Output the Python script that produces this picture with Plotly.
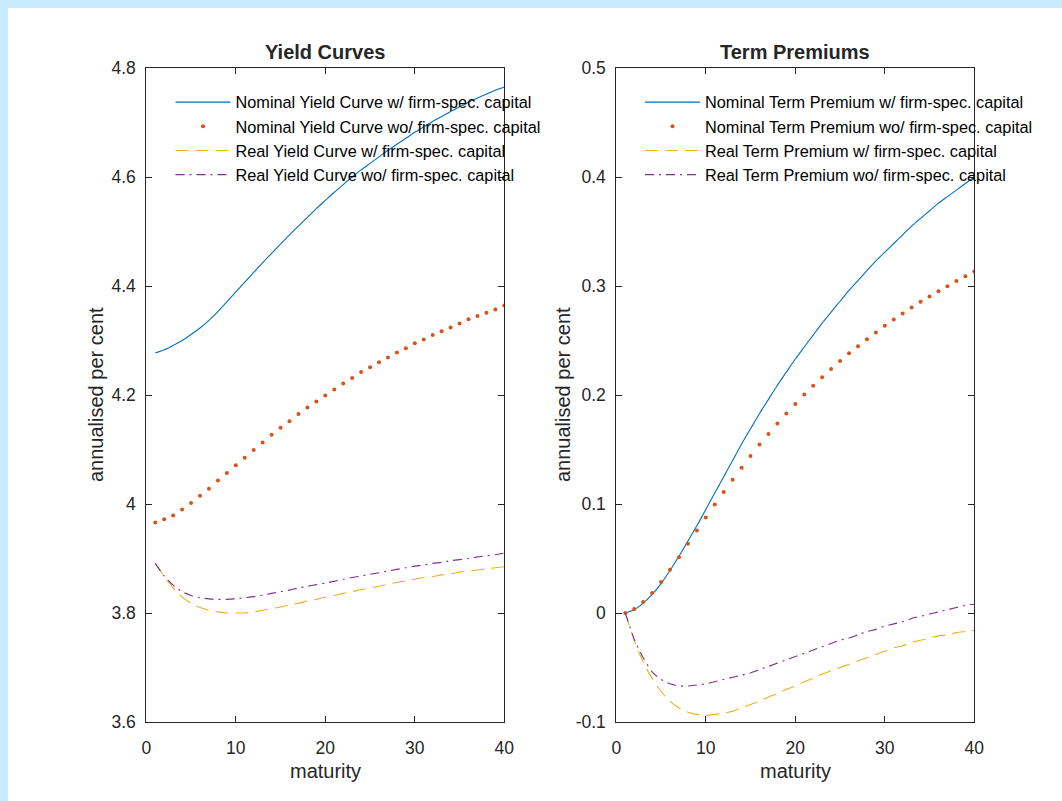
import plotly.graph_objects as go

maturity = list(range(1, 41))

# Yield curves (annualised per cent)
nom_yield_w = [4.277, 4.283, 4.291, 4.300, 4.311, 4.323, 4.337, 4.353, 4.371, 4.389,
               4.407, 4.425, 4.443, 4.460, 4.477, 4.494, 4.510, 4.526, 4.542, 4.557,
               4.572, 4.586, 4.600, 4.613, 4.625, 4.637, 4.649, 4.660, 4.671, 4.682,
               4.692, 4.702, 4.711, 4.720, 4.729, 4.737, 4.745, 4.752, 4.759, 4.765]
nom_yield_wo = [3.966, 3.972, 3.979, 3.990, 4.002, 4.015, 4.028, 4.043, 4.057, 4.071,
                4.085, 4.099, 4.113, 4.127, 4.140, 4.152, 4.165, 4.177, 4.188, 4.199,
                4.210, 4.221, 4.231, 4.242, 4.251, 4.260, 4.269, 4.278, 4.286, 4.295,
                4.302, 4.310, 4.317, 4.324, 4.331, 4.339, 4.345, 4.351, 4.357, 4.364]
real_yield_w = [3.891, 3.867, 3.846, 3.829, 3.818, 3.810, 3.805, 3.802, 3.800, 3.800,
                3.800, 3.802, 3.805, 3.808, 3.811, 3.815, 3.818, 3.822, 3.825, 3.829,
                3.832, 3.836, 3.839, 3.843, 3.846, 3.849, 3.853, 3.856, 3.859, 3.862,
                3.865, 3.867, 3.870, 3.872, 3.875, 3.877, 3.879, 3.881, 3.883, 3.885]
real_yield_wo = [3.891, 3.868, 3.851, 3.839, 3.832, 3.828, 3.826, 3.825, 3.825, 3.826,
                 3.828, 3.830, 3.833, 3.836, 3.839, 3.842, 3.846, 3.849, 3.852, 3.855,
                 3.858, 3.862, 3.865, 3.868, 3.871, 3.874, 3.877, 3.880, 3.883, 3.886,
                 3.888, 3.891, 3.893, 3.896, 3.898, 3.900, 3.903, 3.905, 3.907, 3.910]

# Term premiums (annualised per cent)
nom_tp_w = [0.000, 0.003, 0.009, 0.017, 0.027, 0.039, 0.052, 0.066, 0.080, 0.095,
            0.110, 0.125, 0.140, 0.155, 0.169, 0.183, 0.196, 0.209, 0.221, 0.233,
            0.244, 0.255, 0.266, 0.276, 0.286, 0.296, 0.305, 0.314, 0.323, 0.331,
            0.339, 0.347, 0.355, 0.362, 0.369, 0.376, 0.382, 0.388, 0.394, 0.400]
nom_tp_wo = [0.000, 0.0037, 0.0101, 0.0183, 0.0284, 0.0397, 0.0512, 0.0635, 0.0757, 0.0876,
             0.0995, 0.1111, 0.1223, 0.1333, 0.1440, 0.1546, 0.1643, 0.1738, 0.1830, 0.1918,
             0.2004, 0.2086, 0.2162, 0.2238, 0.2311, 0.2382, 0.2448, 0.2512, 0.2574, 0.2635,
             0.2693, 0.2747, 0.2802, 0.2855, 0.2903, 0.2952, 0.2997, 0.3047, 0.3089, 0.3132]
real_tp_w = [0.000, -0.025, -0.045, -0.060, -0.072, -0.081, -0.087, -0.091, -0.093, -0.094,
             -0.093, -0.092, -0.090, -0.087, -0.084, -0.081, -0.077, -0.074, -0.070, -0.067,
             -0.063, -0.060, -0.056, -0.053, -0.050, -0.047, -0.044, -0.041, -0.038, -0.035,
             -0.032, -0.030, -0.027, -0.025, -0.023, -0.021, -0.020, -0.018, -0.017, -0.016]
real_tp_wo = [0.000, -0.024, -0.041, -0.054, -0.061, -0.065, -0.067, -0.067, -0.066, -0.065,
              -0.063, -0.061, -0.059, -0.057, -0.055, -0.052, -0.049, -0.046, -0.043, -0.040,
              -0.037, -0.034, -0.031, -0.028, -0.025, -0.023, -0.020, -0.017, -0.015, -0.012,
              -0.010, -0.008, -0.005, -0.003, -0.001, 0.001, 0.003, 0.005, 0.007, 0.008]

left_names = ["Nominal Yield Curve w/ firm-spec. capital",
              "Nominal Yield Curve wo/ firm-spec. capital",
              "Real Yield Curve w/ firm-spec. capital",
              "Real Yield Curve wo/ firm-spec. capital"]
right_names = ["Nominal Term Premium w/ firm-spec. capital",
               "Nominal Term Premium wo/ firm-spec. capital",
               "Real Term Premium w/ firm-spec. capital",
               "Real Term Premium wo/ firm-spec. capital"]

x_ticks = [0, 10, 20, 30, 40]
left_yticks = [3.6, 3.8, 4.0, 4.2, 4.4, 4.6, 4.8]
left_yticklabels = ["3.6", "3.8", "4", "4.2", "4.4", "4.6", "4.8"]
right_yticks = [-0.1, 0.0, 0.1, 0.2, 0.3, 0.4, 0.5]
right_yticklabels = ["-0.1", "0", "0.1", "0.2", "0.3", "0.4", "0.5"]

BLUE = "#0072BD"
ORANGE = "#D95319"
YELLOW = "#EDB120"
PURPLE = "#7E2F8E"
FONT = "Liberation Sans, Arial, Helvetica, sans-serif"
AX = "#262626"

W, H = 1062, 801

fig = go.Figure()

def add_set(series, names, xa, ya, legend):
    styles = [
        dict(mode="lines", line=dict(color=BLUE, width=1.1, shape="spline", smoothing=0.6)),
        dict(mode="markers", marker=dict(color=ORANGE, size=4, line=dict(width=0))),
        dict(mode="lines", line=dict(color=YELLOW, width=1.1, dash="13px,7px",
                                     shape="spline", smoothing=0.6)),
        dict(mode="lines", line=dict(color=PURPLE, width=1.1, dash="9px,5px,2px,5px",
                                     shape="spline", smoothing=0.6)),
    ]
    for s, n, st in zip(series, names, styles):
        fig.add_trace(go.Scatter(x=maturity, y=s, name=n, xaxis=xa, yaxis=ya,
                                 legend=legend, **st))

add_set([nom_yield_w, nom_yield_wo, real_yield_w, real_yield_wo], left_names, "x", "y", "legend")
add_set([nom_tp_w, nom_tp_wo, real_tp_w, real_tp_wo], right_names, "x2", "y2", "legend2")

ydom = [1 - 722 / H, 1 - 68 / H]
xdom1 = [146.3 / W, 504.3 / W]
xdom2 = [616.3 / W, 974.3 / W]

axis_common = dict(showline=True, linecolor=AX, linewidth=1, mirror="ticks",
                   ticks="inside", ticklen=6, tickwidth=1, tickcolor=AX,
                   showgrid=False, zeroline=False, automargin=False,
                   tickfont=dict(family=FONT, size=17.5, color=AX))

legend_common = dict(xanchor="left", yanchor="top", bgcolor="rgba(0,0,0,0)",
                     borderwidth=0, itemwidth=55, tracegroupgap=0,
                     font=dict(family=FONT, size=16.3, color="#000000"))

fig.update_layout(
    width=W, height=H,
    margin=dict(l=0, r=0, t=0, b=0, pad=0, autoexpand=False),
    paper_bgcolor="rgb(200,236,255)",
    plot_bgcolor="white",
    showlegend=True,
    xaxis=dict(domain=xdom1, range=[0, 40], tickvals=x_ticks, anchor="y",
               ticklabelstandoff=10, **axis_common),
    yaxis=dict(domain=ydom, range=[3.6, 4.8], tickvals=left_yticks,
               ticktext=left_yticklabels, anchor="x", ticklabelstandoff=6, **axis_common),
    xaxis2=dict(domain=xdom2, range=[0, 40], tickvals=x_ticks, anchor="y2",
                ticklabelstandoff=10, **axis_common),
    yaxis2=dict(domain=ydom, range=[-0.1, 0.5], tickvals=right_yticks,
                ticktext=right_yticklabels, anchor="x2", ticklabelstandoff=6, **axis_common),
    legend=dict(x=170.5 / W, y=1 - 85 / H, **legend_common),
    legend2=dict(x=640 / W, y=1 - 85 / H, **legend_common),
    shapes=[dict(type="rect", xref="paper", yref="paper", x0=8 / W, x1=1.0,
                 y0=0.0, y1=1 - 8 / H, fillcolor="white", line=dict(width=0),
                 layer="below")],
)

annots = [
    dict(text="<b>Yield Curves</b>", x=325.3 / W, y=1 - 52 / H, size=20),
    dict(text="<b>Term Premiums</b>", x=795.3 / W, y=1 - 52 / H, size=20),
    dict(text="maturity", x=325.3 / W, y=1 - 771 / H, size=20),
    dict(text="maturity", x=795.3 / W, y=1 - 771 / H, size=20),
]
for a in annots:
    fig.add_annotation(text=a["text"], x=a["x"], y=a["y"], xref="paper", yref="paper",
                       xanchor="center", yanchor="middle", showarrow=False,
                       font=dict(family=FONT, size=a["size"], color=AX))
for xp in [96 / W, 563 / W]:
    fig.add_annotation(text="annualised per cent", x=xp, y=1 - 395 / H, xref="paper",
                       yref="paper", xanchor="center", yanchor="middle", textangle=-90,
                       showarrow=False, font=dict(family=FONT, size=20, color=AX))

fig.write_html("out.html",
               config={"displayModeBar": False},
               post_script="document.body.style.margin='0px';"
                           "document.body.style.padding='0px';"
                           "document.body.style.overflow='hidden';")
